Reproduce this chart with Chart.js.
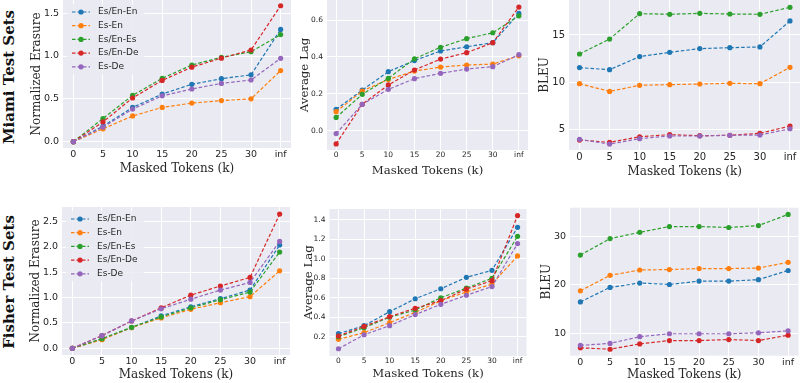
<!DOCTYPE html>
<html><head><meta charset="utf-8">
<script src="https://cdn.jsdelivr.net/npm/chart.js@4.4.0/dist/chart.umd.min.js"></script>
<style>
html,body{margin:0;padding:0;background:#fff;overflow:hidden;width:800px;height:383px;position:relative;}
canvas{position:absolute;}
.row{position:absolute;font-family:"DejaVu Serif",serif;font-weight:bold;font-size:15px;color:#111;white-space:nowrap;transform:translate(-50%,-50%) rotate(-90deg);}
</style></head><body>
<div class="row" style="left:9px;top:77px">Miami Test Sets</div>
<div class="row" style="left:9px;top:282px">Fisher Test Sets</div>
<script>
// ---- categories / series ----
const categories = ["0","5","10","15","20","25","30","inf"];
const seriesNames = ["Es/En-En","Es-En","Es/En-Es","Es/En-De","Es-De"];
const seriesColors = ["#1f77b4","#ff7f0e","#2ca02c","#d62728","#9467bd"];

// ---- Miami: Normalized Erasure ----
const miamiErasureEsEnEn = [0, 0.18, 0.40, 0.556, 0.67, 0.735, 0.78, 1.31];
const miamiErasureEsEn   = [0, 0.15, 0.30, 0.40, 0.45, 0.48, 0.50, 0.83];
const miamiErasureEsEnEs = [0, 0.27, 0.54, 0.74, 0.895, 0.985, 1.05, 1.25];
const miamiErasureEsEnDe = [0, 0.23, 0.51, 0.715, 0.87, 0.975, 1.07, 1.587];
const miamiErasureEsDe   = [0, 0.17, 0.38, 0.535, 0.615, 0.68, 0.72, 0.973];
// ---- Miami: Average Lag ----
const miamiLagEsEnEn = [0.116, 0.22, 0.32, 0.38, 0.432, 0.455, 0.477, 0.636];
const miamiLagEsEn   = [0.103, 0.215, 0.278, 0.323, 0.345, 0.356, 0.361, 0.406];
const miamiLagEsEnEs = [0.072, 0.197, 0.284, 0.39, 0.452, 0.499, 0.531, 0.623];
const miamiLagEsEnDe = [-0.072, 0.143, 0.248, 0.329, 0.388, 0.423, 0.477, 0.67];
const miamiLagEsDe   = [-0.016, 0.143, 0.224, 0.282, 0.311, 0.334, 0.347, 0.412];
// ---- Miami: BLEU ----
const miamiBleuEsEnEn = [11.53, 11.31, 12.7, 13.16, 13.55, 13.65, 13.73, 16.5];
const miamiBleuEsEn   = [9.82, 9.0, 9.65, 9.72, 9.79, 9.86, 9.82, 11.56];
const miamiBleuEsEnEs = [12.98, 14.57, 17.27, 17.2, 17.3, 17.23, 17.2, 17.94];
const miamiBleuEsEnDe = [3.83, 3.58, 4.18, 4.4, 4.29, 4.33, 4.54, 5.32];
const miamiBleuEsDe   = [3.9, 3.4, 3.97, 4.26, 4.26, 4.33, 4.36, 5.03];
// ---- Fisher: Normalized Erasure ----
const fisherErasureEsEnEn = [0, 0.184, 0.41, 0.64, 0.82, 0.98, 1.15, 2.04];
const fisherErasureEsEn   = [0, 0.17, 0.41, 0.60, 0.77, 0.90, 1.02, 1.53];
const fisherErasureEsEnEs = [0, 0.19, 0.415, 0.62, 0.80, 0.96, 1.11, 1.90];
const fisherErasureEsEnDe = [0, 0.25, 0.54, 0.80, 1.05, 1.23, 1.40, 2.65];
const fisherErasureEsDe   = [0, 0.25, 0.54, 0.78, 0.97, 1.15, 1.30, 2.11];
// ---- Fisher: Average Lag ----
const fisherLagEsEnEn = [0.231, 0.313, 0.457, 0.59, 0.693, 0.81, 0.882, 1.325];
const fisherLagEsEn   = [0.173, 0.241, 0.344, 0.45, 0.57, 0.66, 0.741, 1.03];
const fisherLagEsEnEs = [0.20, 0.293, 0.40, 0.474, 0.60, 0.70, 0.80, 1.232];
const fisherLagEsEnDe = [0.207, 0.306, 0.406, 0.492, 0.57, 0.69, 0.776, 1.445];
const fisherLagEsDe   = [0.076, 0.22, 0.313, 0.427, 0.533, 0.626, 0.715, 1.157];
// ---- Fisher: BLEU ----
const fisherBleuEsEnEn = [16.5, 19.5, 20.4, 20.1, 20.8, 20.8, 21.1, 23.0];
const fisherBleuEsEn   = [18.8, 22.0, 23.1, 23.2, 23.4, 23.4, 23.5, 24.7];
const fisherBleuEsEnEs = [26.2, 29.6, 30.9, 32.1, 32.1, 31.9, 32.3, 34.6];
const fisherBleuEsEnDe = [7.0, 6.7, 7.8, 8.5, 8.5, 8.7, 8.5, 9.6];
const fisherBleuEsDe   = [7.5, 7.9, 9.3, 9.9, 9.9, 9.9, 10.1, 10.5];

// ---- tick labels ----
const erasureTicksMiami = ["0.0","0.5","1.0","1.5"];
const lagTicksMiami = ["0.0","0.2","0.4","0.6"];
const bleuTicksMiami = ["5","10","15"];
const erasureTicksFisher = ["0.0","0.5","1.0","1.5","2.0","2.5"];
const lagTicksFisher = ["0.2","0.4","0.6","0.8","1.0","1.2","1.4"];
const bleuTicksFisher = ["10","20","30"];

const xTitle = "Masked Tokens (k)";
const TXT = "#262626";

const bgPlugin = {
  id: 'bg',
  beforeDraw(chart) {
    const {ctx, chartArea: a} = chart;
    ctx.save();
    ctx.fillStyle = '#EAEAF2';
    ctx.fillRect(a.left, a.top, a.right - a.left, a.bottom - a.top);
    ctx.restore();
  }
};

const legendPlugin = {
  id: 'panelLegend',
  afterDatasetsDraw(chart, args, opts) {
    if (!opts || !opts.show) return;
    const ctx = chart.ctx, a = chart.chartArea;
    ctx.save();
    ctx.font = '9px "DejaVu Sans"';
    const rowH = 13.7, y0 = a.top + 12, x0 = a.left + 9;
    let w = 0;
    chart.data.datasets.forEach(d => { w = Math.max(w, ctx.measureText(d.label).width); });
    ctx.fillStyle = 'rgba(234,234,242,0.85)';
    ctx.fillRect(a.left + 4, a.top + 4, 35 + w + 2, rowH * 5 + 2);
    chart.data.datasets.forEach((d, i) => {
      const y = y0 + i * rowH;
      ctx.strokeStyle = d.borderColor;
      ctx.lineWidth = 1.2;
      ctx.setLineDash([3.5, 2]);
      ctx.beginPath(); ctx.moveTo(x0, y); ctx.lineTo(x0 + 18, y); ctx.stroke();
      ctx.setLineDash([]);
      ctx.fillStyle = d.borderColor;
      ctx.beginPath(); ctx.arc(x0 + 9, y, 2.6, 0, Math.PI * 2); ctx.fill();
      ctx.fillStyle = TXT;
      ctx.textBaseline = 'middle';
      ctx.textAlign = 'left';
      ctx.fillText(d.label, a.left + 35, y);
    });
    ctx.restore();
  }
};

function makePanel(cfg) {
  const lh = cfg.titleFont * 1.2;
  const cl = Math.round(cfg.yTitleX - lh / 2);
  const ct = Math.round(cfg.area.t - 20);
  const cb = Math.round(cfg.xTitleY + lh / 2);
  const cr = Math.round(cfg.area.r + 12);
  const canvas = document.createElement('canvas');
  canvas.width = cr - cl; canvas.height = cb - ct;
  canvas.style.left = cl + 'px'; canvas.style.top = ct + 'px';
  canvas.style.width = (cr - cl) + 'px'; canvas.style.height = (cb - ct) + 'px';
  document.body.appendChild(canvas);
  const tickFont = {family: 'DejaVu Sans', size: cfg.tickFont};
  const titleFont = {family: 'DejaVu Serif', size: cfg.titleFont};
  new Chart(canvas, {
    type: 'line',
    data: {
      datasets: seriesNames.map((name, i) => ({
        label: name,
        data: cfg.values[i].map((v, j) => ({x: j, y: v})),
        borderColor: seriesColors[i],
        backgroundColor: seriesColors[i],
        borderWidth: 1.2,
        borderDash: [3.5, 2],
        pointRadius: 2.6,
        pointBorderWidth: 0,
        pointBackgroundColor: seriesColors[i],
        order: 4 - i,
        tension: 0,
        fill: false
      }))
    },
    options: {
      responsive: false, animation: false, devicePixelRatio: 1,
      layout: {padding: {left: 0, top: cfg.area.t - ct, right: cr - cfg.area.r, bottom: 0}},
      plugins: {legend: {display: false}, tooltip: {enabled: false}, panelLegend: {show: !!cfg.legend}},
      scales: {
        x: {
          type: 'linear', min: -0.35, max: 7.35,
          afterBuildTicks: ax => { ax.ticks = categories.map((c, i) => ({value: i})); },
          ticks: {callback: (v) => categories[v], font: tickFont, color: TXT, padding: 1, maxRotation: 0, autoSkip: false},
          grid: {color: '#ffffff', lineWidth: 1, drawTicks: false},
          border: {display: false},
          title: {display: true, text: xTitle, font: titleFont, color: TXT, padding: 0},
          afterFit: ax => { ax.height = cb - cfg.area.b; ax.paddingLeft = 0; ax.paddingRight = 0; }
        },
        y: {
          type: 'linear', min: cfg.yMin, max: cfg.yMax,
          afterBuildTicks: ax => { ax.ticks = cfg.yTicks.map(s => ({value: parseFloat(s)})); },
          ticks: {callback: (v, i) => cfg.yTicks[i], font: tickFont, color: TXT, padding: 4, autoSkip: false},
          grid: {color: '#ffffff', lineWidth: 1, drawTicks: false},
          border: {display: false},
          title: {display: true, text: cfg.yTitle, font: titleFont, color: TXT, padding: 0},
          afterFit: ax => { ax.width = cfg.area.l - cl; ax.paddingTop = 0; ax.paddingBottom = 0; }
        }
      }
    },
    plugins: [bgPlugin, legendPlugin]
  });
}

makePanel({area: {l: 63, t: 0, r: 291, b: 148}, yMin: -0.074, yMax: 1.654, yTicks: erasureTicksMiami,
  yTitle: "Normalized Erasure", yTitleX: 37, xTitleY: 168.5, tickFont: 9.5, titleFont: 12, legend: true,
  values: [miamiErasureEsEnEn, miamiErasureEsEn, miamiErasureEsEnEs, miamiErasureEsEnDe, miamiErasureEsDe]});
makePanel({area: {l: 327, t: 0, r: 528, b: 150}, yMin: -0.1048, yMax: 0.7086, yTicks: lagTicksMiami,
  yTitle: "Average Lag", yTitleX: 305.5, xTitleY: 171, tickFont: 7.5, titleFont: 11.7,
  values: [miamiLagEsEnEn, miamiLagEsEn, miamiLagEsEnEs, miamiLagEsEnDe, miamiLagEsDe]});
makePanel({area: {l: 569, t: 0, r: 800.5, b: 150}, yMin: 2.77, yMax: 18.72, yTicks: bleuTicksMiami,
  yTitle: "BLEU", yTitleX: 545, xTitleY: 171.5, tickFont: 10, titleFont: 12,
  values: [miamiBleuEsEnEn, miamiBleuEsEn, miamiBleuEsEnEs, miamiBleuEsEnDe, miamiBleuEsDe]});
makePanel({area: {l: 62, t: 207, r: 290, b: 355}, yMin: -0.132, yMax: 2.79, yTicks: erasureTicksFisher,
  yTitle: "Normalized Erasure", yTitleX: 35.7, xTitleY: 375, tickFont: 9.5, titleFont: 12, legend: true,
  values: [fisherErasureEsEnEn, fisherErasureEsEn, fisherErasureEsEnEs, fisherErasureEsEnDe, fisherErasureEsDe]});
makePanel({area: {l: 329.5, t: 209, r: 526.5, b: 356}, yMin: 0.0015, yMax: 1.513, yTicks: lagTicksFisher,
  yTitle: "Average Lag", yTitleX: 309, xTitleY: 373.5, tickFont: 7.5, titleFont: 11.7,
  values: [fisherLagEsEnEn, fisherLagEsEn, fisherLagEsEnEs, fisherLagEsEnDe, fisherLagEsDe]});
makePanel({area: {l: 570, t: 207.7, r: 798.5, b: 355.7}, yMin: 5.36, yMax: 36.0, yTicks: bleuTicksFisher,
  yTitle: "BLEU", yTitleX: 547, xTitleY: 375, tickFont: 9.5, titleFont: 12,
  values: [fisherBleuEsEnEn, fisherBleuEsEn, fisherBleuEsEnEs, fisherBleuEsEnDe, fisherBleuEsDe]});
</script>
</body></html>
